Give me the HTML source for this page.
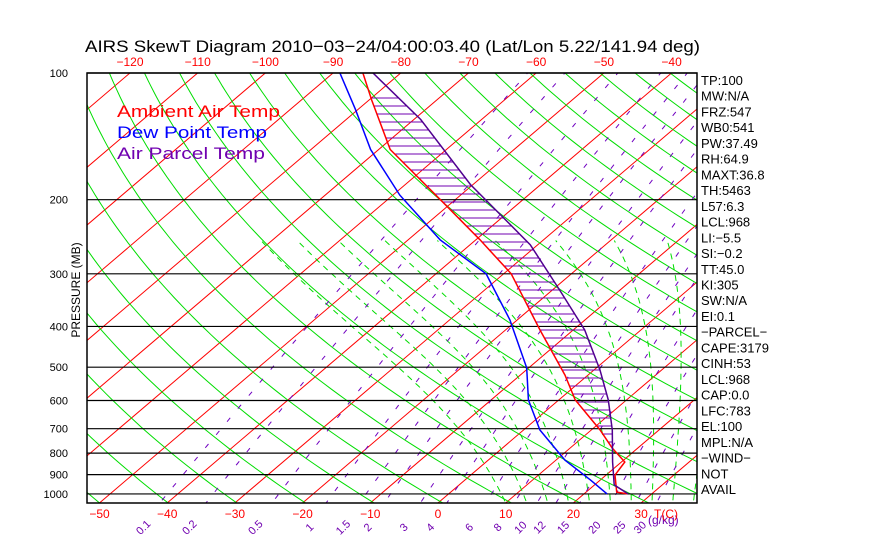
<!DOCTYPE html>
<html><head><meta charset="utf-8"><style>
body{margin:0;background:#fff;}
svg{display:block;font-family:"Liberation Sans",sans-serif;}
</style></head><body>
<svg id="c" width="870" height="560" viewBox="0 0 870 560">
<defs><clipPath id="clip"><rect x="87" y="73" width="610" height="430"/></clipPath></defs>
<g id="bg" clip-path="url(#clip)"></g>
<g id="grid"></g>
<g id="prof" clip-path="url(#clip)"></g>
<rect x="87" y="73" width="610" height="430" fill="none" stroke="#000" stroke-width="1.5"/>
<text x="85" y="52" font-size="17" textLength="615" lengthAdjust="spacingAndGlyphs">AIRS SkewT Diagram 2010−03−24/04:00:03.40 (Lat/Lon 5.22/141.94 deg)</text>
<text x="80" y="290" font-size="12" transform="rotate(-90 80 290)" text-anchor="middle">PRESSURE (MB)</text>
<g id="axes"></g>
<g font-size="17">
<text x="117" y="117" fill="#ff0000" textLength="163" lengthAdjust="spacingAndGlyphs">Ambient Air Temp</text>
<text x="117" y="138" fill="#0000ff" textLength="150" lengthAdjust="spacingAndGlyphs">Dew Point Temp</text>
<text x="117" y="159" fill="#7000b0" textLength="148" lengthAdjust="spacingAndGlyphs">Air Parcel Temp</text>
</g>
<g id="stats" font-size="13"></g>
</svg>
<script>
const pressureTicks=[100,200,300,400,500,600,700,800,900,1000];
const bottomTempTicks=[-50,-40,-30,-20,-10,0,10,20,30];
const topTempTicks=[-120,-110,-100,-90,-80,-70,-60,-50,-40];
const mixingRatios=[0.1,0.2,0.5,1,1.5,2,3,4,6,8,10,12,15,20,25,30];
const tempP=[100,116,152,200,249,300,408,522,598,705,778,840,902,990,1000];
const tempT=[-85.6,-79.6,-68.3,-52.2,-39.4,-28.9,-14.9,-3.4,2.4,11.3,16.2,20.5,21.3,24.5,26.4];
const dewP=[100,122,152,195,249,300,386,502,598,705,831,926,1000];
const dewT=[-89.0,-80.4,-71.2,-59.0,-45.3,-32.6,-21.1,-10.3,-4.5,2.4,11.3,18.5,23.4];
const parcelP=[100,129,184,256,328,408,508,598,705,840,952,1000];
const parcelT=[-84.1,-69.0,-50.4,-31.1,-18.9,-8.3,0.9,7.3,13.1,18.7,22.9,26.5];
const statLines=["TP:100","MW:N/A","FRZ:547","WB0:541","PW:37.49","RH:64.9","MAXT:36.8","TH:5463","L57:6.3","LCL:968","LI:−5.5","SI:−0.2","TT:45.0","KI:305","SW:N/A","EI:0.1","−PARCEL−","CAPE:3179","CINH:53","LCL:968","CAP:0.0","LFC:783","EL:100","MPL:N/A","−WIND−","NOT","AVAIL"];

const NS="http://www.w3.org/2000/svg";
const Y0=73,K=182.8,X0=438,SC=6.77,SK=1.173,YB=503;
function yP(p){return Y0+K*Math.log(p/100);}
function xT(t,p){const y=yP(p);return X0+SC*t+SK*(YB-y);}
function mk(par,tag,attrs){const e=document.createElementNS(NS,tag);for(const k in attrs)e.setAttribute(k,attrs[k]);par.appendChild(e);return e;}
const bg=document.getElementById('bg'),grid=document.getElementById('grid'),prof=document.getElementById('prof'),axes=document.getElementById('axes'),stats=document.getElementById('stats');
function poly(par,pts,st,w,dash,name){const e=mk(par,'polyline',{points:pts.map(q=>q[0].toFixed(1)+','+q[1].toFixed(1)).join(' '),fill:'none',stroke:st,'stroke-width':w});if(dash)e.setAttribute('stroke-dasharray',dash);return e;}
const pLevels=[];for(let p=80;p<=1100;p*=1.03)pLevels.push(p);
for(let t=-180;t<=50;t+=10){poly(bg,[[xT(t,1100),yP(1100)],[xT(t,80),yP(80)]],'#ff0000',1,null,'isotherm');}
for(let th=220;th<=520;th+=10){poly(bg,pLevels.map(p=>[xT(th*Math.pow(p/1000,0.286)-273.15,p),yP(p)]),'#00dd00',1,null,'dry-adiabat');}
function es(t){return 6.112*Math.exp(17.67*t/(t+243.5));}
for(let t0=12;t0<=42;t0+=3){let T=t0+273.15,p=1100;const pts=[[xT(T-273.15,p),yP(p)]];while(p>250){const tc=T-273.15;const rs=0.622*es(tc)/(p-es(tc));const dTdp=(287*T+2.5e6*rs)/(p*(1004+2.5e6*2.5e6*rs*0.622/(287*T*T)));const dp=-5;T+=dTdp*dp;p+=dp;pts.push([xT(T-273.15,p),yP(p)]);}
poly(bg,pts,'#00dd00',1,'6,5','moist-adiabat');}
function tdW(w,p){const e=w*p/(622+w);const l=Math.log(e/6.112);return 243.5*l/(17.67-l);}
mixingRatios.forEach(w=>{poly(bg,pLevels.map(p=>[xT(tdW(w,p),p),yP(p)]),'#7000c0',1,'5,12','mixing-ratio-line');
const x=xT(tdW(w,1050),1050)-14;const tx=mk(axes,'text',{x:x,y:530,'font-size':11,fill:'#7000b0',transform:'rotate(-45 '+x+' 530)','text-anchor':'middle'});tx.textContent=w;

});
const gl=mk(axes,'text',{x:648,y:524,'font-size':12,fill:'#7000b0'});gl.textContent='(g/kg)';


pressureTicks.forEach(p=>{const y=yP(p);const l=mk(grid,'line',{x1:87,x2:697,y1:y,y2:y,stroke:'#000','stroke-width':1.2});


const t=mk(axes,'text',{x:68,y:y+4,'font-size':11,'text-anchor':'end'});t.textContent=p;

});
bottomTempTicks.forEach(v=>{const t=mk(axes,'text',{x:X0+SC*v,y:518,'font-size':12,fill:'#ff0000','text-anchor':'middle'});t.textContent=v<0?'−'+(-v):v;

});
const tc=mk(axes,'text',{x:654,y:518,'font-size':12,fill:'#ff0000'});tc.textContent='T(C)';


topTempTicks.forEach(v=>{const t=mk(axes,'text',{x:xT(v,100),y:66,'font-size':12,fill:'#ff0000','text-anchor':'middle'});t.textContent='−'+(-v);

});
function curve(P,T){return P.map((p,i)=>[xT(T[i],p),yP(p)]);}
const tc1=curve(tempP,tempT),dc=curve(dewP,dewT),pc=curve(parcelP,parcelT);
function xAt(c,y){for(let i=0;i<c.length-1;i++){if(y>=c[i][1]&&y<=c[i+1][1]){const f=(y-c[i][1])/((c[i+1][1]-c[i][1])||1);return c[i][0]+f*(c[i+1][0]-c[i][0]);}}return null;}
for(let y=98;y<=470;y+=8){const a=xAt(tc1,y),b=xAt(pc,y);if(a!==null&&b!==null&&b>a){const l=mk(prof,'line',{x1:a,x2:b,y1:y,y2:y,stroke:'#7000b0','stroke-width':1});

}}
poly(prof,dc,'#0000ff',1.5,null,'dewpoint-line');
poly(prof,tc1,'#ff0000',1.5,null,'temperature-line');
poly(prof,pc,'#500090',1.5,null,'parcel-line');
statLines.forEach((s,i)=>{const t=mk(stats,'text',{x:701,y:85+i*15.73});t.textContent=s;

});
</script>
</body></html>
